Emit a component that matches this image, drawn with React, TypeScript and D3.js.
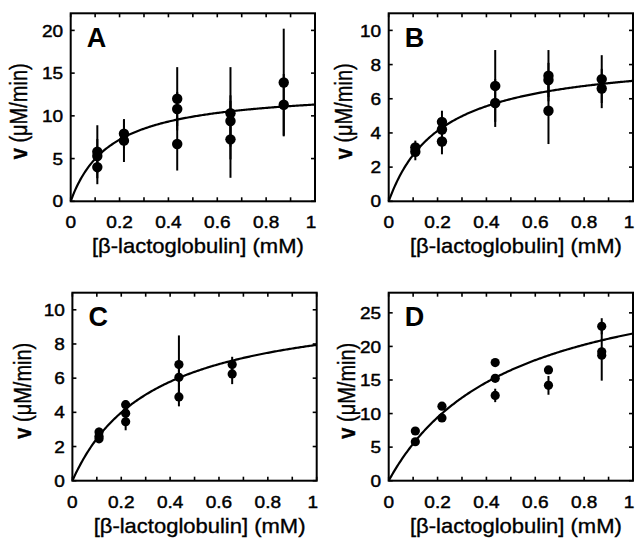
import React from 'react';
import * as d3 from 'd3';

// [β-lactoglobulin] (mM), velocity v (µM/min), error half-length
type Pt = [number, number, number];

const pointsA: Pt[] = [
  [0.109, 5.8, 3.1], [0.109, 5.3, 2.0], [0.109, 4.0, 2.0],
  [0.218, 7.9, 1.7], [0.218, 7.1, 2.5],
  [0.436, 12.0, 3.7], [0.436, 10.8, 2.0], [0.436, 6.7, 3.1],
  [0.654, 10.3, 5.4], [0.654, 9.4, 3.0], [0.654, 7.25, 4.5],
  [0.872, 13.9, 6.3], [0.872, 11.3, 3.6],
];
const pointsB: Pt[] = [
  [0.109, 3.15, 0.4], [0.109, 2.9, 0.5],
  [0.218, 4.65, 0.65], [0.218, 4.2, 0.5], [0.218, 3.5, 0.75],
  [0.436, 6.75, 2.1], [0.436, 5.75, 1.4],
  [0.654, 7.35, 1.5], [0.654, 7.1, 1.0], [0.654, 5.3, 1.95],
  [0.872, 7.15, 1.4], [0.872, 6.6, 1.15],
];
const pointsC: Pt[] = [
  [0.109, 2.85, 0.25], [0.109, 2.6, 0.2], [0.109, 2.45, 0.2],
  [0.218, 4.45, 0.25], [0.218, 3.95, 0.3], [0.218, 3.45, 0.5],
  [0.436, 6.8, 1.7], [0.436, 6.05, 0.6], [0.436, 4.9, 0.55],
  [0.654, 6.8, 0.45], [0.654, 6.25, 0.6],
];
const pointsD: Pt[] = [
  [0.109, 7.4, 0.5], [0.109, 5.8, 0.4],
  [0.218, 11.1, 0.5], [0.218, 9.35, 0.4],
  [0.436, 17.6, 0.4], [0.436, 15.25, 0.5], [0.436, 12.7, 1.0],
  [0.654, 16.5, 0.3], [0.654, 14.2, 1.4],
  [0.872, 23.0, 1.2], [0.872, 19.2, 0.6], [0.872, 18.7, 3.8],
];

// Michaelis-Menten fit parameters [Vmax, Km]
const fitA = [13.2, 0.166];
const fitB = [8.57, 0.216];
const fitC = [10.57, 0.33];
const fitD = [32.8, 0.496];

const xTickLabels = [0, 0.2, 0.4, 0.6, 0.8, 1];
const xMinorTicks = d3.range(0, 11).map(i => i / 10);
const yTicksA = [0, 5, 10, 15, 20];
const yTicksB = [0, 2, 4, 6, 8, 10];
const yTicksC = [0, 2, 4, 6, 8, 10];
const yTicksD = [0, 5, 10, 15, 20, 25];

const FONT = '"Liberation Sans", Arial, Helvetica, sans-serif';
const W = 244.3;
const H = 188;
// the scan is a little wider than tall, so text is stretched sideways
const SX = 1.12;

const Panel = ({ left, top, label, points, fit, yMax, yTicks, r, yLabelX }: any) => {
  const x = d3.scaleLinear().domain([0, 1]).range([0, W]);
  const y = d3.scaleLinear().domain([0, yMax]).range([H, 0]);
  const [vmax, km] = fit;
  const curveX = d3.range(0, 1.0001, 0.005);
  const line = d3.line<number>()
    .x(d => x(d))
    .y(d => y(vmax * d / (km + d)));

  return (
    <g transform={`translate(${left},${top})`}>
      {xMinorTicks.map(t => (
        <g key={'xt' + t}>
          <line x1={x(t)} x2={x(t)} y1={H} y2={H - 4} stroke="#000" strokeWidth={1.6} />
          <line x1={x(t)} x2={x(t)} y1={0} y2={4} stroke="#000" strokeWidth={1.6} />
        </g>
      ))}
      {yTicks.map((t: number) => (
        <g key={'yt' + t}>
          <line x1={0} x2={4} y1={y(t)} y2={y(t)} stroke="#000" strokeWidth={1.6} />
          <line x1={W} x2={W - 4} y1={y(t)} y2={y(t)} stroke="#000" strokeWidth={1.6} />
          <text transform={`translate(-7.5,${y(t)}) scale(${SX},1)`} dy="0.36em" textAnchor="end"
            fontSize={17} fontFamily={FONT} stroke="#000" strokeWidth={0.45}>{t}</text>
        </g>
      ))}
      {xTickLabels.map(t => (
        <text key={'xl' + t} transform={`translate(${x(t) - (t === 1 ? 4 : 0)},${H + 27}) scale(${SX},1)`}
          textAnchor="middle" fontSize={17} fontFamily={FONT}
          stroke="#000" strokeWidth={0.45}>{t}</text>
      ))}
      <rect x={0} y={0} width={W} height={H} fill="none" stroke="#000" strokeWidth={2} />
      {points.map((p: Pt, i: number) => (
        <line key={'e' + i} x1={x(p[0])} x2={x(p[0])} y1={y(p[1] - p[2])} y2={y(p[1] + p[2])}
          stroke="#000" strokeWidth={2} />
      ))}
      <path d={line(curveX) || ''} fill="none" stroke="#000" strokeWidth={2.2} />
      {points.map((p: Pt, i: number) => (
        <circle key={'c' + i} cx={x(p[0])} cy={y(p[1])} r={r} fill="#000" />
      ))}
      <text x={16} y={33.5} fontSize={27} fontWeight="bold" fontFamily={FONT}>{label}</text>
      <text transform={`translate(${W / 2 + 5},${H + 52}) scale(1.1,1)`} textAnchor="middle"
        fontSize={20} fontFamily={FONT} stroke="#000" strokeWidth={0.35}>[β-lactoglobulin] (mM)</text>
      <text transform={`translate(${yLabelX},${H / 2 + 4}) rotate(-90) scale(1,1.15)`} textAnchor="middle"
        fontSize={20} fontFamily={FONT} stroke="#000" strokeWidth={0.35}>
        <tspan fontWeight="bold">v</tspan> (μM/min)
      </text>
    </g>
  );
};

export default function App() {
  return (
    <svg width={636} height={540} style={{ position: 'absolute', left: 0, top: 0, background: '#fff' }}>
      <rect width={636} height={540} fill="#fff" />
      <Panel left={70.7} top={13.3} label="A" points={pointsA} fit={fitA} yMax={22} yTicks={yTicksA}
        r={5.2} yLabelX={-44} />
      <Panel left={388.7} top={13.3} label="B" points={pointsB} fit={fitB} yMax={11} yTicks={yTicksB}
        r={5.2} yLabelX={-37} />
      <Panel left={72.4} top={292.7} label="C" points={pointsC} fit={fitC} yMax={11} yTicks={yTicksC}
        r={4.6} yLabelX={-41} />
      <Panel left={388.7} top={292.7} label="D" points={pointsD} fit={fitD} yMax={28} yTicks={yTicksD}
        r={4.6} yLabelX={-34} />
    </svg>
  );
}
